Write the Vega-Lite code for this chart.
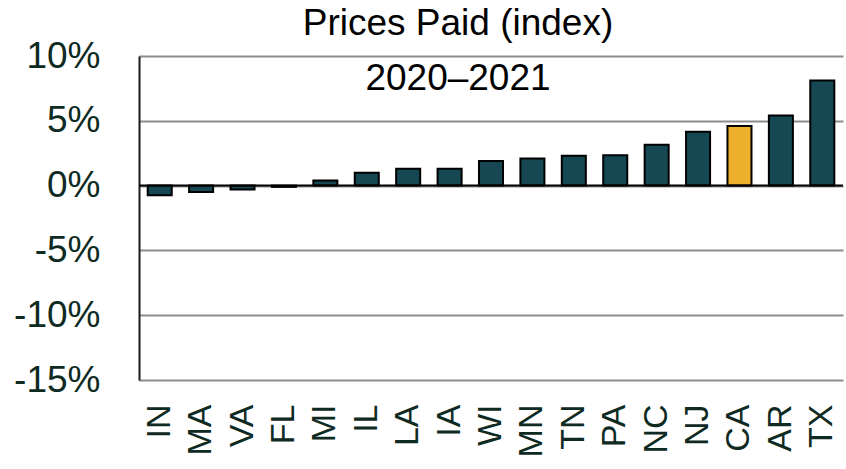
{
  "$schema": "https://vega.github.io/schema/vega-lite/v6.json",
  "width": 704,
  "height": 324,
  "autosize": {"type": "none"},
  "padding": {"left": 139, "top": 56, "right": 3, "bottom": 89},
  "background": "white",
  "title": {
    "text": "Prices Paid (index)",
    "subtitle": "2020–2021",
    "font": "Liberation Sans",
    "subtitleFont": "Liberation Sans",
    "fontSize": 37,
    "subtitleFontSize": 37,
    "fontWeight": "normal",
    "color": "black",
    "subtitleColor": "black",
    "anchor": "middle",
    "frame": "group",
    "dx": -33,
    "offset": -61,
    "subtitlePadding": 18
  },
  "data": {
    "values": [
      {"state": "IN", "value": -0.75, "group": "other"},
      {"state": "MA", "value": -0.5, "group": "other"},
      {"state": "VA", "value": -0.3, "group": "other"},
      {"state": "FL", "value": -0.1, "group": "other"},
      {"state": "MI", "value": 0.4, "group": "other"},
      {"state": "IL", "value": 1.0, "group": "other"},
      {"state": "LA", "value": 1.3, "group": "other"},
      {"state": "IA", "value": 1.3, "group": "other"},
      {"state": "WI", "value": 1.9, "group": "other"},
      {"state": "MN", "value": 2.1, "group": "other"},
      {"state": "TN", "value": 2.3, "group": "other"},
      {"state": "PA", "value": 2.35, "group": "other"},
      {"state": "NC", "value": 3.15, "group": "other"},
      {"state": "NJ", "value": 4.15, "group": "other"},
      {"state": "CA", "value": 4.6, "group": "highlight"},
      {"state": "AR", "value": 5.4, "group": "other"},
      {"state": "TX", "value": 8.1, "group": "other"}
    ]
  },
  "layer": [
    {
      "mark": {"type": "bar", "stroke": "black", "strokeWidth": 2},
      "encoding": {
        "x": {
          "field": "state",
          "type": "nominal",
          "sort": null,
          "scale": {"paddingInner": 0.42, "paddingOuter": 0.21},
          "axis": {
            "title": null,
            "labelAngle": -90,
            "labelAlign": "right",
            "labelBaseline": "middle",
            "labelFont": "Liberation Sans",
            "labelFontSize": 34,
            "labelColor": "#0e2a22",
            "labelPadding": 24,
            "ticks": false,
            "domain": false,
            "grid": false
          }
        },
        "y": {
          "field": "value",
          "type": "quantitative",
          "scale": {"domain": [-15, 10], "nice": false},
          "axis": {
            "title": null,
            "values": [-15, -10, -5, 0, 5, 10],
            "labelExpr": "(datum.value < 0 ? '-' : '') + abs(datum.value) + '%'",
            "labelFont": "Liberation Sans",
            "labelFontSize": 37,
            "labelColor": "#0e2a22",
            "labelPadding": 39,
            "ticks": false,
            "domain": true,
            "domainColor": "#1a1a1a",
            "domainWidth": 2,
            "grid": true,
            "gridColor": "#8c8c8c",
            "gridWidth": 2
          }
        },
        "color": {
          "field": "group",
          "type": "nominal",
          "scale": {"domain": ["other", "highlight"], "range": ["#164854", "#ECB02C"]},
          "legend": null
        }
      }
    },
    {
      "data": {"values": [{"zero": 0}]},
      "mark": {"type": "rule", "color": "black", "strokeWidth": 2},
      "encoding": {
        "y": {"field": "zero", "type": "quantitative"}
      }
    }
  ],
  "config": {"view": {"stroke": null}}
}
